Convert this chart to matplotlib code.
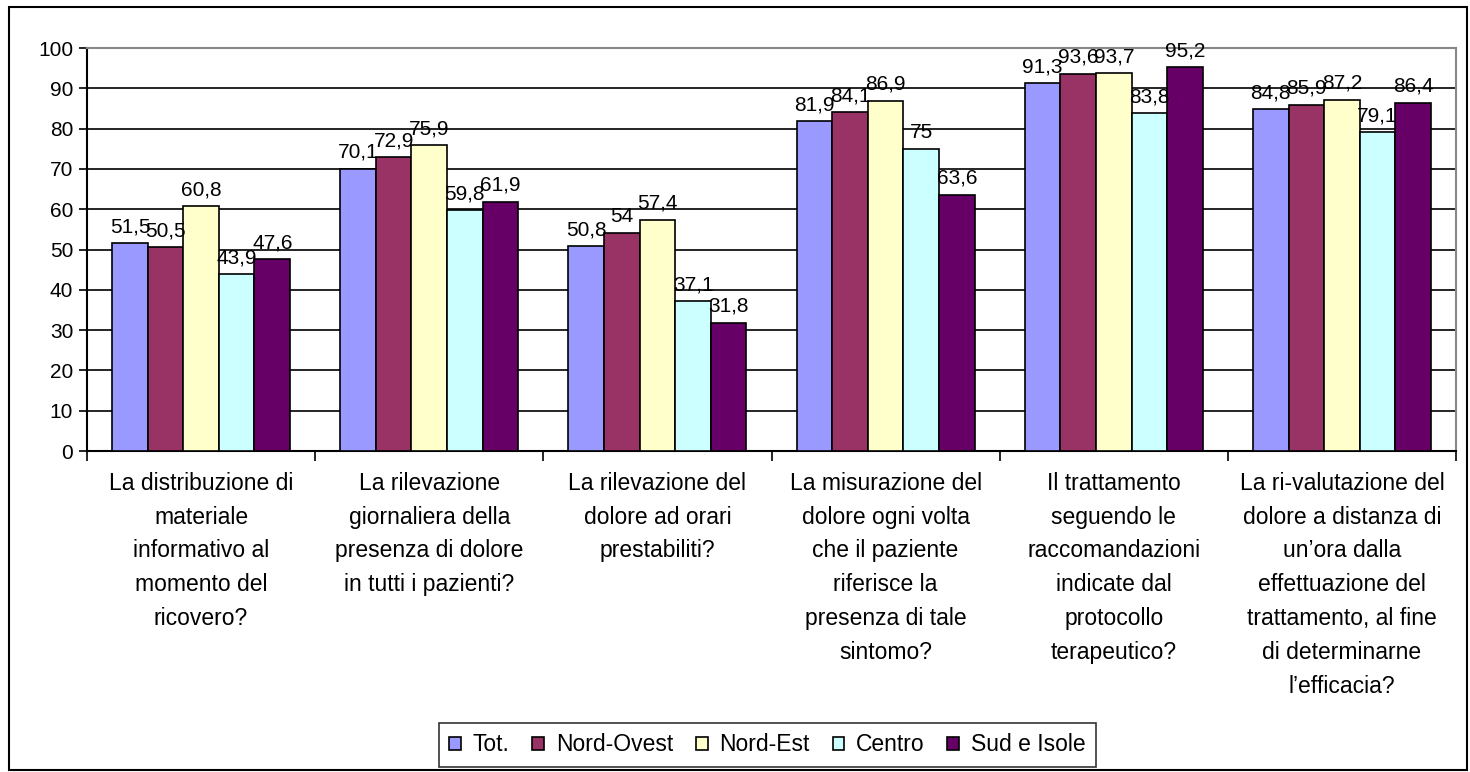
import numpy as np
import matplotlib.pyplot as plt
from matplotlib.patches import Rectangle

# Data
categories = [
    "La distribuzione di\nmateriale\ninformativo al\nmomento del\nricovero?",
    "La rilevazione\ngiornaliera della\npresenza di dolore\nin tutti i pazienti?",
    "La rilevazione del\ndolore ad orari\nprestabiliti?",
    "La misurazione del\ndolore ogni volta\nche il paziente\nriferisce la\npresenza di tale\nsintomo?",
    "Il trattamento\nseguendo le\nraccomandazioni\nindicate dal\nprotocollo\nterapeutico?",
    "La ri-valutazione del\ndolore a distanza di\nun\u2019ora dalla\neffettuazione del\ntrattamento, al fine\ndi determinarne\nl\u2019efficacia?",
]
series_names = ["Tot.", "Nord-Ovest", "Nord-Est", "Centro", "Sud e Isole"]
tot = [51.5, 70.1, 50.8, 81.9, 91.3, 84.8]
nord_ovest = [50.5, 72.9, 54, 84.1, 93.6, 85.9]
nord_est = [60.8, 75.9, 57.4, 86.9, 93.7, 87.2]
centro = [43.9, 59.8, 37.1, 75, 83.8, 79.1]
sud_isole = [47.6, 61.9, 31.8, 63.6, 95.2, 86.4]
values = [tot, nord_ovest, nord_est, centro, sud_isole]
colors = ["#9999FF", "#993366", "#FFFFCC", "#CCFFFF", "#660066"]

plt.rcParams['font.family'] = ['Liberation Sans', 'DejaVu Sans']
fs = 15        # ticks and value labels
fs_cat = 16.5  # category labels and legend

fig = plt.figure(figsize=(14.7, 7.72), dpi=100)
ax = fig.add_axes([0.0592, 0.4158, 0.9313, 0.522])

# outer frame of the chart
fig.patches.append(Rectangle((0.006, 0.003), 0.992, 0.988, transform=fig.transFigure,
                             fill=False, edgecolor='black', linewidth=1.5))

x = np.arange(len(categories))
width = 0.156
for i, (name, vals) in enumerate(zip(series_names, values)):
    pos = x + (i - 2) * width
    ax.bar(pos, vals, width, color=colors[i], edgecolor='black', linewidth=1.2,
           label=name, zorder=3)
    for p, v in zip(pos, vals):
        ax.annotate(f"{v:g}".replace('.', ','), (p, v), xytext=(0, 5),
                    textcoords='offset points', ha='center', va='bottom',
                    fontsize=fs, zorder=4)

ax.set_xlim(-0.5, len(categories) - 0.5)
ax.set_ylim(0, 100)
ax.set_yticks(range(0, 101, 10))
ax.yaxis.grid(True, color='black', linewidth=1.2, zorder=0)
ax.tick_params(axis='y', labelsize=fs, length=6, width=1.2, direction='out', pad=4)

# category boundaries as x ticks, labels at centres
ax.set_xticks(np.arange(-0.5, len(categories), 1.0))
ax.set_xticklabels([])
ax.set_xticks(x, minor=True)
ax.set_xticklabels(categories, minor=True, fontsize=fs_cat, linespacing=1.6, va='top')
ax.tick_params(axis='x', which='major', length=7, width=1.2, direction='out')
ax.tick_params(axis='x', which='minor', length=0, pad=15)

ax.spines['left'].set_linewidth(1.5)
ax.spines['bottom'].set_linewidth(1.5)
ax.spines['top'].set_color('#888888')
ax.spines['right'].set_color('#888888')
ax.spines['top'].set_linewidth(1.5)
ax.spines['right'].set_linewidth(1.5)

leg = fig.legend(loc='center', bbox_to_anchor=(0.522, 0.035), ncol=5, fontsize=fs_cat,
                 frameon=True, fancybox=False, edgecolor='black', handlelength=0.52,
                 handleheight=0.52, handletextpad=0.5, columnspacing=1.0,
                 borderpad=0.45, borderaxespad=0)
leg.get_frame().set_linewidth(1.2)

fig.savefig('out.png', dpi=100)
